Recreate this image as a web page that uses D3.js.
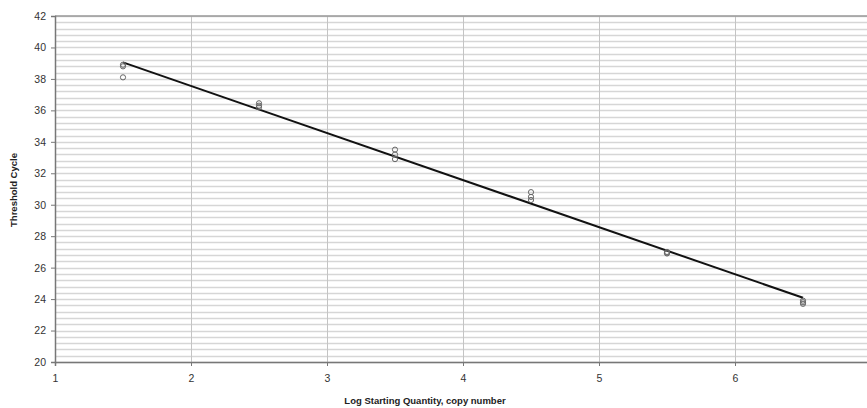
<!DOCTYPE html>
<html><head><meta charset="utf-8">
<script src="https://cdn.jsdelivr.net/npm/d3@7"></script>
<style>body{margin:0;background:#fff}svg{display:block}</style>
</head><body>
<svg id="c" width="867" height="408"></svg>
<script>
const logQty = [1.5,1.5,1.5, 2.5,2.5,2.5, 3.5,3.5,3.5, 4.5,4.5,4.5, 5.5,5.5,5.5, 6.5,6.5,6.5];
const ctValues = [38.9,38.8,38.1, 36.45,36.3,36.2, 33.5,33.2,32.9, 30.8,30.5,30.3, 27.0,26.95,26.9, 23.9,23.8,23.7];
const xTicks = [1,2,3,4,5,6];
const yTicks = [20,22,24,26,28,30,32,34,36,38,40,42];
const xTitle = "Log Starting Quantity, copy number";
const yTitle = "Threshold Cycle";

(function(){
const svg = d3.select("#c");
const pL = 55, pR = 871, pT = 16, pB = 362;
const x = d3.scaleLinear().domain([1,7]).range([pL,pR]);
const y = d3.scaleLinear().domain([20,42]).range([pB,pT]);

// minor horizontal gridlines every 0.4
const minor = d3.range(0, 56).map(i => 20 + i*0.4);
svg.append("g").selectAll("line").data(minor).join("line")
  .attr("x1", pL).attr("x2", 867)
  .attr("y1", d=>Math.round(y(d))+0.5).attr("y2", d=>Math.round(y(d))+0.5)
  .attr("stroke", "#d6d6d6").attr("stroke-width", 1.5);

// vertical gridlines
svg.append("g").selectAll("line").data(xTicks.slice(1)).join("line")
  .attr("x1", d=>Math.round(x(d))+0.5).attr("x2", d=>Math.round(x(d))+0.5)
  .attr("y1", pT).attr("y2", pB)
  .attr("stroke", "#c4c4c4").attr("stroke-width", 1);

// top border
svg.append("line").attr("x1", pL).attr("x2", 867).attr("y1", pT).attr("y2", pT)
  .attr("stroke", "#999").attr("stroke-width", 1.5);

// axes
const yAxis = d3.axisLeft(y).tickValues(yTicks).tickSize(4).tickPadding(5).tickFormat(d3.format("d"));
const gy = svg.append("g").attr("transform", `translate(${pL},0)`).call(yAxis);
const xAxis = d3.axisBottom(x).tickValues(xTicks).tickSize(4).tickPadding(9).tickFormat(d3.format("d"));
const gx = svg.append("g").attr("transform", `translate(0,${pB})`).call(xAxis);
[gy, gx].forEach(g => {
  g.select(".domain").attr("stroke", "#777").attr("stroke-width", 1.5);
  g.selectAll(".tick line").attr("stroke", "#777");
  g.selectAll("text").attr("fill", "#333").attr("font-family", "Liberation Sans, Arial, sans-serif").attr("font-size", 10.5);
});

// regression trend line
const n = logQty.length;
const mx = d3.mean(logQty), my = d3.mean(ctValues);
let sxy = 0, sxx = 0;
for (let i = 0; i < n; i++) { sxy += (logQty[i]-mx)*(ctValues[i]-my); sxx += (logQty[i]-mx)**2; }
const slope = sxy/sxx, intercept = my - slope*mx;
const xs = d3.extent(logQty);
svg.append("line")
  .attr("x1", x(xs[0])).attr("y1", y(intercept + slope*xs[0]))
  .attr("x2", x(xs[1])).attr("y2", y(intercept + slope*xs[1]))
  .attr("stroke", "#111").attr("stroke-width", 2);

// points
svg.append("g").selectAll("circle").data(logQty).join("circle")
  .attr("cx", d=>x(d)).attr("cy", (d,i)=>y(ctValues[i])).attr("r", 2.6)
  .attr("fill", "none").attr("stroke", "#666").attr("stroke-width", 1);

// titles
svg.append("text").attr("x", 425).attr("y", 404).attr("text-anchor", "middle")
  .attr("font-family", "Liberation Sans, Arial, sans-serif").attr("font-size", 9.5).attr("font-weight", "bold")
  .attr("fill", "#222").text(xTitle);
svg.append("text").attr("transform", "translate(17,190) rotate(-90)").attr("text-anchor", "middle")
  .attr("font-family", "Liberation Sans, Arial, sans-serif").attr("font-size", 9.5).attr("font-weight", "bold")
  .attr("fill", "#222").text(yTitle);
})();
</script>
</body></html>
